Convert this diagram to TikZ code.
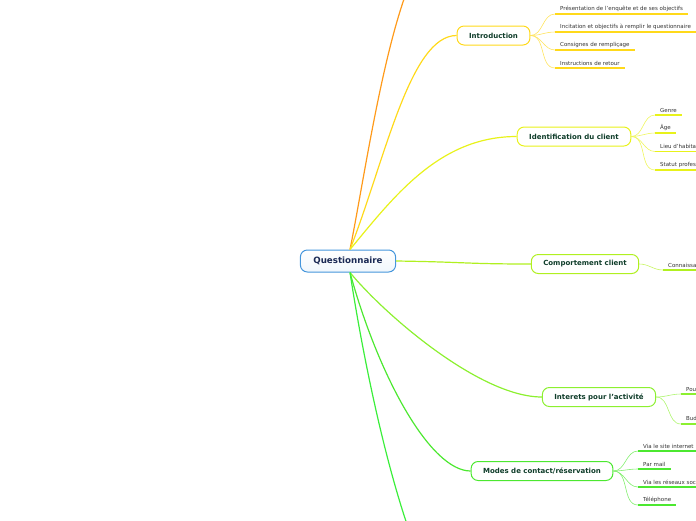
\documentclass[tikz,border=0pt]{standalone}
\usepackage{fontspec}
\setmainfont{DejaVu Sans}
\usepackage{xcolor}
\usepackage{tikz}
\usetikzlibrary{arrows.meta, calc, positioning}
\definecolor{rootblue}{HTML}{4596DC}
\definecolor{rootink}{HTML}{1B2A55}
\definecolor{topicink}{HTML}{0F3D2A}
\definecolor{leafink}{HTML}{333333}
\definecolor{cOrange}{HTML}{FF9A1A}
\definecolor{cIntro}{HTML}{FFD91A}
\definecolor{cIdent}{HTML}{E8F21A}
\definecolor{cComp}{HTML}{B0F020}
\definecolor{cInter}{HTML}{8CF030}
\definecolor{cModes}{HTML}{4CE830}
\definecolor{cLast}{HTML}{3AEE3A}
\tikzset{
    rootbox/.style={rectangle, rounded corners=7pt, draw=rootblue, line width=1pt,
        top color=white, bottom color=rootblue!8,
        text=rootink, font=\bfseries\fontsize{8.7}{10}\selectfont, minimum height=22pt, inner xsep=13pt},
    topicbox/.style={rectangle, rounded corners=7pt, line width=1pt, fill=white,
        text=topicink, font=\bfseries\fontsize{7}{8}\selectfont, minimum height=19pt, inner xsep=12pt},
    leaf/.style={anchor=south west, text=leafink, font=\fontsize{5.5}{6}\selectfont,
        inner xsep=5pt, inner ysep=2.5pt},
    branch/.style={line width=1.2pt},
    twig/.style={line width=0.6pt},
    uline/.style={line width=1.4pt},
}

\begin{document}
\begin{tikzpicture}[x=1pt, y=-1pt]
    \useasboundingbox (0,0) rectangle (696,520);
    \clip (0,0) rectangle (696,520);

    % main topics
    \node[rootbox] (root) at (348,261) {Questionnaire};
    \node[topicbox, draw=cIntro] (intro) at (493.5,35.5) {Introduction};
    \node[topicbox, draw=cIdent] (ident) at (574,136.5) {Identification du client};
    \node[topicbox, draw=cComp] (comp) at (585,264) {Comportement client};
    \node[topicbox, draw=cInter] (inter) at (599,397) {Interets pour l'activité};
    \node[topicbox, draw=cModes] (modes) at (542,471) {Modes de contact/réservation};
    \coordinate (upper) at (440,-60);
    \coordinate (lower) at (440,600);

    % branches from the root
    \draw[branch, cOrange] ($(root.north)+(2,0)$) .. controls (368,160) and (395,-40) .. (upper);
    \draw[branch, cIntro] ($(root.north)+(2,0)$) .. controls (385,160) and (410,35.5) .. (intro.west);
    \draw[branch, cIdent] ($(root.north)+(2,0)$) .. controls (395,195) and (440,136.5) .. (ident.west);
    \draw[branch, cComp] (root.east) .. controls (465,262) and (465,264) .. (comp.west);
    \draw[branch, cInter] ($(root.south)+(2,0)$) .. controls (385,315) and (480,397) .. (inter.west);
    \draw[branch, cModes] ($(root.south)+(2,0)$) .. controls (378,375) and (430,471) .. (modes.west);
    \draw[branch, cLast] ($(root.south)+(2,0)$) .. controls (368,390) and (402,540) .. (lower);

    % Introduction
    \node[leaf] (i1) at (555,14) {Présentation de l'enquête et de ses objectifs};
    \node[leaf] (i2) at (555,32) {Incitation et objectifs à remplir le questionnaire};
    \node[leaf] (i3) at (555,50) {Consignes de rempliçage};
    \node[leaf] (i4) at (555,68) {Instructions de retour};
    \foreach \l in {i1,i2,i3,i4} {
        \draw[uline, cIntro] (\l.south west) -- (\l.south east);
        \draw[twig, cIntro!70] (intro.east) to[out=0, in=180] (\l.south west);
    }

    % Identification du client
    \node[leaf] (c1) at (655,115) {Genre};
    \node[leaf] (c2) at (655,133) {Âge};
    \node[leaf] (c3) at (655,151.5) {Lieu d'habitation};
    \node[leaf] (c4) at (655,170) {Statut professionnel};
    \foreach \l in {c1,c2,c3,c4} {
        \draw[uline, cIdent] (\l.south west) -- (\l.south east);
        \draw[twig, cIdent!70] (ident.east) to[out=0, in=180] (\l.south west);
    }

    % Comportement client
    \node[leaf] (b1) at (663,270) {Connaissance};
    \draw[uline, cComp] (b1.south west) -- (b1.south east);
    \draw[twig, cComp!70] (comp.east) to[out=0, in=180] (b1.south west);

    % Interets pour l'activite
    \node[leaf] (a1) at (681,394) {Pour};
    \node[leaf] (a2) at (681,424) {Budget};
    \foreach \l in {a1,a2} {
        \draw[uline, cInter] (\l.south west) -- (\l.south east);
        \draw[twig, cInter!70] (inter.east) to[out=0, in=180] (\l.south west);
    }

    % Modes de contact/reservation
    \node[leaf] (m1) at (638,451) {Via le site internet};
    \node[leaf] (m2) at (638,469) {Par mail};
    \node[leaf] (m3) at (638,487) {Via les réseaux sociaux};
    \node[leaf] (m4) at (638,505) {Téléphone};
    \foreach \l in {m1,m2,m3,m4} {
        \draw[uline, cModes] (\l.south west) -- (\l.south east);
        \draw[twig, cModes!70] (modes.east) to[out=0, in=180] (\l.south west);
    }
\end{tikzpicture}
\end{document}
